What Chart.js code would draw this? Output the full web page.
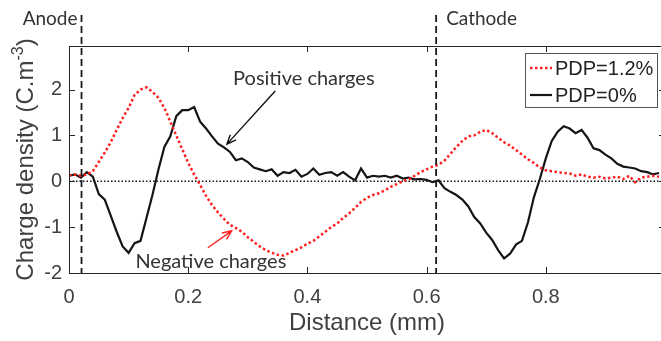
<!DOCTYPE html>
<html>
<head>
<meta charset="utf-8">
<script src="https://cdn.jsdelivr.net/npm/chart.js@4.4.1/dist/chart.umd.min.js"></script>
<style>
  html, body { margin: 0; padding: 0; background: #fff; overflow: hidden; }
  #wrap { width: 670px; height: 341px; }
</style>
</head>
<body>
<div id="wrap"><canvas id="charge-chart" width="670" height="341"></canvas></div>
<script>
// distance from the anode side, mm
const distance = [
  0.00, 0.01, 0.02, 0.03, 0.04, 0.05, 0.06, 0.07, 0.08, 0.09,
  0.10, 0.11, 0.12, 0.13, 0.14, 0.15, 0.16, 0.17, 0.18, 0.19,
  0.20, 0.21, 0.22, 0.23, 0.24, 0.25, 0.26, 0.27, 0.28, 0.29,
  0.30, 0.31, 0.32, 0.33, 0.34, 0.35, 0.36, 0.37, 0.38, 0.39,
  0.40, 0.41, 0.42, 0.43, 0.44, 0.45, 0.46, 0.47, 0.48, 0.49,
  0.50, 0.51, 0.52, 0.53, 0.54, 0.55, 0.56, 0.57, 0.58, 0.59,
  0.60, 0.61, 0.62, 0.63, 0.64, 0.65, 0.66, 0.67, 0.68, 0.69,
  0.70, 0.71, 0.72, 0.73, 0.74, 0.75, 0.76, 0.77, 0.78, 0.79,
  0.80, 0.81, 0.82, 0.83, 0.84, 0.85, 0.86, 0.87, 0.88, 0.89,
  0.90, 0.91, 0.92, 0.93, 0.94, 0.95, 0.96, 0.97, 0.98, 0.99
];

// PDP = 1.2 %
const pdp12 = [
  0.13, 0.15, 0.12, 0.15, 0.22, 0.42, 0.63, 0.85, 1.12, 1.38,
  1.60, 1.88, 2.00, 2.05, 1.95, 1.82, 1.60, 1.30, 1.00, 0.70,
  0.40, 0.15, -0.08, -0.32, -0.52, -0.68, -0.82, -0.95, -1.02, -1.10,
  -1.22, -1.32, -1.42, -1.50, -1.56, -1.60, -1.62, -1.56, -1.50, -1.44,
  -1.36, -1.30, -1.20, -1.10, -1.00, -0.92, -0.80, -0.70, -0.58, -0.45,
  -0.36, -0.30, -0.26, -0.20, -0.12, -0.06, 0.00, 0.04, 0.12, 0.20,
  0.26, 0.32, 0.36, 0.45, 0.60, 0.75, 0.88, 0.98, 1.00, 1.08,
  1.12, 1.05, 0.95, 0.85, 0.78, 0.68, 0.58, 0.48, 0.40, 0.30,
  0.24, 0.22, 0.20, 0.18, 0.17, 0.12, 0.15, 0.10, 0.08, 0.10,
  0.06, 0.08, 0.10, 0.05, 0.12, -0.02, 0.08, 0.10, 0.12, 0.10
];

// PDP = 0 %
const pdp0 = [
  0.12, 0.15, 0.08, 0.20, 0.10, -0.28, -0.40, -0.75, -1.10, -1.42,
  -1.56, -1.35, -1.30, -0.80, -0.30, 0.25, 0.75, 0.98, 1.42, 1.55,
  1.55, 1.62, 1.30, 1.15, 0.98, 0.82, 0.74, 0.64, 0.46, 0.50,
  0.42, 0.30, 0.26, 0.22, 0.26, 0.12, 0.20, 0.18, 0.25, 0.10,
  0.16, 0.28, 0.14, 0.18, 0.20, 0.12, 0.20, 0.10, 0.02, 0.28,
  0.08, 0.12, 0.10, 0.12, 0.08, 0.12, 0.06, 0.08, 0.04, 0.05,
  0.03, -0.02, 0.02, -0.15, -0.23, -0.30, -0.40, -0.55, -0.78, -0.92,
  -1.12, -1.28, -1.50, -1.68, -1.58, -1.38, -1.30, -0.90, -0.35, 0.05,
  0.50, 0.88, 1.08, 1.20, 1.15, 1.05, 1.12, 0.95, 0.72, 0.68,
  0.58, 0.50, 0.38, 0.32, 0.30, 0.28, 0.22, 0.20, 0.15, 0.18
];

const xTicks = [0, 0.2, 0.4, 0.6, 0.8, 1];
const yTicks = [-2, -1, 0, 1, 2];

// electrode positions (mm)
const electrodeNames = ['Anode', 'Cathode'];
const electrodePos = [0.021, 0.616];

const FONT = '"Liberation Sans", Arial, Helvetica, sans-serif';
const NOTE_FONT = 'Lato, "Open Sans", sans-serif';
const TEXT = '#404040';

function arrow(ctx, x1, y1, x2, y2, color) {
  const a = Math.atan2(y2 - y1, x2 - x1);
  const h = 10;
  ctx.save();
  ctx.strokeStyle = color;
  ctx.lineWidth = 1.4;
  ctx.beginPath();
  ctx.moveTo(x1, y1);
  ctx.lineTo(x2, y2);
  ctx.moveTo(x2 - h * Math.cos(a - 0.4), y2 - h * Math.sin(a - 0.4));
  ctx.lineTo(x2, y2);
  ctx.lineTo(x2 - h * Math.cos(a + 0.4), y2 - h * Math.sin(a + 0.4));
  ctx.stroke();
  ctx.restore();
}

const decorations = {
  id: 'decorations',
  beforeDatasetsDraw(chart) {
    const {ctx, chartArea: ca, scales: {y}} = chart;
    const y0 = y.getPixelForValue(0);
    ctx.save();
    ctx.strokeStyle = '#111';
    ctx.lineWidth = 1.4;
    ctx.setLineDash([1.5, 2]);
    ctx.beginPath();
    ctx.moveTo(ca.left, y0);
    ctx.lineTo(ca.right, y0);
    ctx.stroke();
    ctx.restore();
  },
  afterDraw(chart) {
    const {ctx, chartArea: ca, scales: {x, y}} = chart;
    ctx.save();

    // frame + inward ticks
    ctx.strokeStyle = '#262626';
    ctx.lineWidth = 1;
    ctx.strokeRect(ca.left + 0.5, ca.top + 0.5, ca.right - ca.left, ca.bottom - ca.top);
    ctx.beginPath();
    xTicks.forEach(v => {
      const px = Math.round(x.getPixelForValue(v)) + 0.5;
      ctx.moveTo(px, ca.bottom); ctx.lineTo(px, ca.bottom - 6);
      ctx.moveTo(px, ca.top); ctx.lineTo(px, ca.top + 6);
    });
    yTicks.forEach(v => {
      const py = Math.round(y.getPixelForValue(v)) + 0.5;
      ctx.moveTo(ca.left, py); ctx.lineTo(ca.left + 6, py);
      ctx.moveTo(ca.right, py); ctx.lineTo(ca.right - 6, py);
    });
    ctx.stroke();

    // electrodes
    ctx.strokeStyle = '#1a1a1a';
    ctx.lineWidth = 1.8;
    ctx.setLineDash([7, 4]);
    electrodePos.forEach(v => {
      const px = x.getPixelForValue(v);
      ctx.beginPath();
      ctx.moveTo(px, 15);
      ctx.lineTo(px, ca.bottom);
      ctx.stroke();
    });
    ctx.setLineDash([]);
    ctx.fillStyle = '#333';
    ctx.font = '19px ' + NOTE_FONT;
    ctx.textBaseline = 'middle';
    ctx.textAlign = 'right';
    ctx.fillText(electrodeNames[0], x.getPixelForValue(electrodePos[0]) - 4, 19);
    ctx.textAlign = 'left';
    ctx.fillText(electrodeNames[1], x.getPixelForValue(electrodePos[1]) + 10, 19);

    // charge labels
    ctx.font = '20px ' + NOTE_FONT;
    ctx.textAlign = 'center';
    ctx.fillText('Positive charges', x.getPixelForValue(0.394), y.getPixelForValue(2.25));
    ctx.fillText('Negative charges', x.getPixelForValue(0.238), y.getPixelForValue(-1.74));
    arrow(ctx, x.getPixelForValue(0.346), y.getPixelForValue(1.97),
      x.getPixelForValue(0.265), y.getPixelForValue(0.81), '#111');
    arrow(ctx, x.getPixelForValue(0.233), y.getPixelForValue(-1.45),
      x.getPixelForValue(0.273), y.getPixelForValue(-1.08), '#ff2020');

    // legend
    const lx = ca.right - 140, ly = ca.top + 7, lw = 132, lh = 54;
    ctx.fillStyle = '#fff';
    ctx.fillRect(lx, ly, lw, lh);
    ctx.strokeStyle = '#555';
    ctx.lineWidth = 1;
    ctx.strokeRect(lx + 0.5, ly + 0.5, lw, lh);
    chart.data.datasets.forEach((ds, i) => {
      const yy = ly + 15 + i * 27;
      ctx.strokeStyle = ds.borderColor;
      ctx.lineWidth = ds.borderWidth;
      ctx.setLineDash(ds.borderDash || []);
      ctx.beginPath();
      ctx.moveTo(lx + 5, yy);
      ctx.lineTo(lx + 27, yy);
      ctx.stroke();
      ctx.setLineDash([]);
      ctx.fillStyle = '#222';
      ctx.font = '20px ' + FONT;
      ctx.textAlign = 'left';
      ctx.fillText(ds.label, lx + 30, yy + 1);
    });

    // y title with superscript
    const main = 'Charge density (C.m', sup = '-3', close = ')';
    ctx.fillStyle = TEXT;
    ctx.font = '24px ' + FONT;
    const w1 = ctx.measureText(main).width, w3 = ctx.measureText(close).width;
    ctx.font = '16px ' + FONT;
    const w2 = ctx.measureText(sup).width;
    ctx.translate(33, (ca.top + ca.bottom) / 2);
    ctx.rotate(-Math.PI / 2);
    ctx.textAlign = 'left';
    ctx.textBaseline = 'alphabetic';
    let px = -(w1 + w2 + w3) / 2;
    ctx.font = '24px ' + FONT;
    ctx.fillText(main, px, 0);
    px += w1;
    ctx.font = '16px ' + FONT;
    ctx.fillText(sup, px, -10);
    px += w2;
    ctx.font = '24px ' + FONT;
    ctx.fillText(close, px, 0);
    ctx.restore();
  }
};

new Chart(document.getElementById('charge-chart'), {
  type: 'line',
  data: {
    datasets: [
      {
        label: 'PDP=1.2%',
        data: distance.map((d, i) => ({x: d, y: pdp12[i]})),
        borderColor: '#ff2020',
        borderWidth: 2.5,
        borderDash: [2.5, 2.5],
        pointRadius: 0,
        tension: 0
      },
      {
        label: 'PDP=0%',
        data: distance.map((d, i) => ({x: d, y: pdp0[i]})),
        borderColor: '#151515',
        borderWidth: 2.2,
        pointRadius: 0,
        tension: 0
      }
    ]
  },
  options: {
    responsive: false,
    devicePixelRatio: 1,
    animation: false,
    layout: {padding: {top: 46, left: 0, right: 5, bottom: 0}},
    plugins: {legend: {display: false}, tooltip: {enabled: false}},
    scales: {
      x: {
        type: 'linear', min: 0, max: 1,
        afterBuildTicks: s => { s.ticks = xTicks.map(v => ({value: v})); },
        ticks: {font: {family: FONT, size: 20}, color: TEXT, padding: 12, maxRotation: 0,
          callback: v => String(v)},
        grid: {display: false, drawTicks: false},
        border: {display: false},
        title: {display: true, text: 'Distance (mm)', color: TEXT,
          font: {family: FONT, size: 24}, padding: {top: 0, bottom: 3}},
        afterFit: s => { s.height = 68; s.paddingLeft = 0; s.paddingRight = 0; }
      },
      y: {
        min: -2, max: 2.95,
        afterBuildTicks: s => { s.ticks = yTicks.map(v => ({value: v})); },
        ticks: {font: {family: FONT, size: 20}, color: TEXT, padding: 7,
          callback: v => String(v)},
        grid: {display: false, drawTicks: false},
        border: {display: false},
        afterFit: s => { s.width = 69; s.paddingTop = 0; s.paddingBottom = 0; }
      }
    }
  },
  plugins: [decorations]
});
</script>
</body>
</html>
